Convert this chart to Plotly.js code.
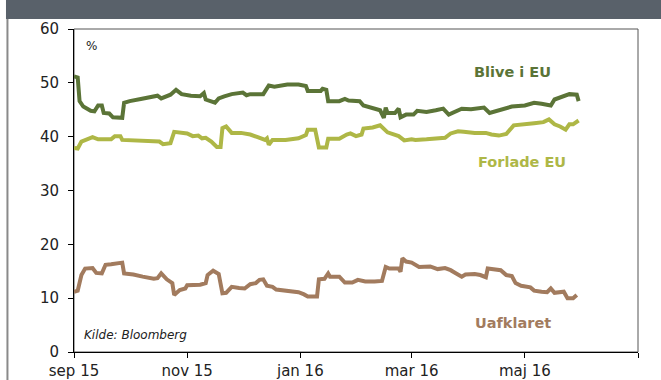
<!DOCTYPE html>
<html>
<head>
<meta charset="utf-8">
<script src="https://cdn.plot.ly/plotly-3.0.1.min.js"></script>
<style>html,body{margin:0;padding:0;background:#fff;}#chart{width:661px;height:380px;}</style>
</head>
<body>
<div id="chart"></div>
<script>
// ---- Data ----
const bliveDates = ['2015-09-01','2015-09-03','2015-09-04','2015-09-06','2015-09-10','2015-09-12','2015-09-14','2015-09-16','2015-09-17','2015-09-20','2015-09-22','2015-09-27','2015-09-28','2015-10-01','2015-10-07','2015-10-12','2015-10-16','2015-10-18','2015-10-21','2015-10-23','2015-10-26','2015-10-29','2015-11-03','2015-11-08','2015-11-10','2015-11-11','2015-11-16','2015-11-18','2015-11-21','2015-11-25','2015-12-01','2015-12-03','2015-12-05','2015-12-12','2015-12-15','2015-12-18','2015-12-25','2015-12-31','2016-01-04','2016-01-05','2016-01-12','2016-01-13','2016-01-15','2016-01-16','2016-01-22','2016-01-25','2016-01-27','2016-02-02','2016-02-04','2016-02-09','2016-02-13','2016-02-15','2016-02-16','2016-02-17','2016-02-21','2016-02-23','2016-02-24','2016-02-27','2016-03-02','2016-03-04','2016-03-09','2016-03-14','2016-03-18','2016-03-21','2016-03-24','2016-03-28','2016-04-02','2016-04-09','2016-04-12','2016-04-15','2016-04-20','2016-04-24','2016-05-01','2016-05-06','2016-05-10','2016-05-15','2016-05-17','2016-05-20','2016-05-25','2016-05-29','2016-05-30'];
const bliveValues = [51.2,51.0,46.6,45.6,44.8,44.7,45.8,45.8,44.4,44.3,43.6,43.5,46.3,46.6,47.0,47.4,47.6,47.1,47.5,47.8,48.7,47.9,47.6,47.5,48.1,46.9,46.3,47.1,47.5,47.9,48.2,47.7,47.9,47.9,49.5,49.3,49.7,49.7,49.4,48.5,48.5,48.9,48.7,46.6,46.6,47.0,46.7,46.6,45.8,45.3,44.9,43.5,45.4,44.4,44.4,45.2,43.6,44.1,44.1,44.8,44.6,44.9,45.2,44.1,44.6,45.2,45.1,45.4,44.4,44.7,45.2,45.6,45.8,46.3,46.1,45.8,46.9,47.3,47.9,47.8,46.6];

const forladeDates = ['2015-09-01','2015-09-03','2015-09-05','2015-09-08','2015-09-11','2015-09-14','2015-09-21','2015-09-23','2015-09-26','2015-09-27','2015-10-05','2015-10-12','2015-10-17','2015-10-19','2015-10-23','2015-10-25','2015-10-28','2015-11-01','2015-11-04','2015-11-07','2015-11-09','2015-11-11','2015-11-14','2015-11-17','2015-11-19','2015-11-20','2015-11-22','2015-11-25','2015-11-30','2015-12-05','2015-12-09','2015-12-13','2015-12-14','2015-12-15','2015-12-17','2015-12-24','2015-12-31','2016-01-04','2016-01-05','2016-01-09','2016-01-11','2016-01-15','2016-01-16','2016-01-22','2016-01-26','2016-01-28','2016-01-31','2016-02-03','2016-02-04','2016-02-09','2016-02-13','2016-02-17','2016-02-23','2016-02-26','2016-03-01','2016-03-03','2016-03-09','2016-03-16','2016-03-19','2016-03-22','2016-03-26','2016-03-29','2016-04-04','2016-04-10','2016-04-13','2016-04-17','2016-04-21','2016-04-25','2016-04-29','2016-05-06','2016-05-11','2016-05-14','2016-05-17','2016-05-20','2016-05-23','2016-05-25','2016-05-27','2016-05-30'];
const forladeValues = [37.9,37.8,39.1,39.5,39.9,39.5,39.5,40.1,40.1,39.4,39.3,39.2,39.1,38.6,38.8,40.9,40.8,40.6,40.1,40.2,39.7,39.8,39.1,38.1,38.1,41.6,41.9,40.7,40.7,40.4,39.9,39.4,39.7,38.5,39.4,39.4,39.7,40.3,41.3,41.3,38.0,38.0,39.6,39.6,40.4,40.6,40.1,40.4,41.5,41.7,42.1,40.8,40.1,39.3,39.5,39.4,39.5,39.7,39.8,40.6,41.0,40.9,40.7,40.7,40.4,40.2,40.5,42.1,42.3,42.5,42.7,43.2,42.3,41.9,41.3,42.3,42.3,43.0];

const uafklaretDates = ['2015-09-01','2015-09-03','2015-09-05','2015-09-07','2015-09-11','2015-09-13','2015-09-16','2015-09-18','2015-09-21','2015-09-24','2015-09-27','2015-09-28','2015-10-03','2015-10-08','2015-10-14','2015-10-16','2015-10-18','2015-10-21','2015-10-24','2015-10-25','2015-10-28','2015-10-31','2015-11-01','2015-11-08','2015-11-11','2015-11-12','2015-11-15','2015-11-18','2015-11-20','2015-11-22','2015-11-25','2015-11-29','2015-12-02','2015-12-05','2015-12-08','2015-12-10','2015-12-12','2015-12-14','2015-12-17','2015-12-19','2015-12-26','2015-12-31','2016-01-03','2016-01-05','2016-01-10','2016-01-11','2016-01-14','2016-01-16','2016-01-17','2016-01-22','2016-01-25','2016-01-29','2016-02-01','2016-02-05','2016-02-10','2016-02-14','2016-02-16','2016-02-18','2016-02-23','2016-02-24','2016-02-25','2016-02-27','2016-03-01','2016-03-03','2016-03-05','2016-03-11','2016-03-15','2016-03-19','2016-03-22','2016-03-25','2016-03-28','2016-03-30','2016-04-04','2016-04-07','2016-04-10','2016-04-11','2016-04-14','2016-04-18','2016-04-21','2016-04-24','2016-04-26','2016-04-29','2016-05-04','2016-05-06','2016-05-10','2016-05-13','2016-05-15','2016-05-17','2016-05-22','2016-05-24','2016-05-27','2016-05-29'];
const uafklaretValues = [11.2,11.4,14.3,15.5,15.6,14.7,14.6,16.2,16.3,16.5,16.6,14.6,14.4,14.0,13.6,13.7,14.6,13.5,12.8,10.6,11.5,11.8,12.4,12.5,12.8,14.3,15.1,14.5,10.9,11.0,12.1,11.9,11.8,12.6,12.8,13.4,13.5,12.3,12.1,11.6,11.3,11.1,10.7,10.3,10.3,13.5,13.6,14.6,14.0,14.0,12.9,12.9,13.4,13.1,13.1,13.2,15.8,15.5,15.5,14.9,17.4,16.8,16.6,16.2,15.8,15.9,15.4,15.6,15.2,14.6,14.0,14.4,14.5,14.3,13.9,15.5,15.4,15.2,14.3,14.1,12.8,12.3,12.0,11.4,11.2,11.1,11.8,11.0,11.2,10.0,10.0,10.6];

const seriesNames = ['Blive i EU','Forlade EU','Uafklaret'];
const tickDates = ['2015-09-01','2015-11-01','2016-01-01','2016-03-01','2016-05-01','2016-07-01'];
const tickLabels = ['sep 15','nov 15','jan 16','mar 16','maj 16',''];
const yTicks = [0,10,20,30,40,50,60];
const yUnit = '%';
const sourceText = 'Kilde: Bloomberg';

// ---- Styles ----
const colors = ['#5b7437','#aeb746','#a27b5e'];
const FONT = 'DejaVu Sans, Verdana, sans-serif';

const traces = [
  {x: bliveDates, y: bliveValues, name: seriesNames[0]},
  {x: forladeDates, y: forladeValues, name: seriesNames[1]},
  {x: uafklaretDates, y: uafklaretValues, name: seriesNames[2]}
].map((t, i) => Object.assign(t, {
  type: 'scatter', mode: 'lines',
  line: {color: colors[i], width: 4, shape: 'linear'},
  hoverinfo: 'skip'
}));

const labelPos = [
  {x: 0.777, y: 52.0},
  {x: 0.794, y: 35.3},
  {x: 0.778, y: 5.4}
];

const annotations = seriesNames.map((n, i) => ({
  text: '<b>' + n + '</b>', xref: 'paper', yref: 'y',
  x: labelPos[i].x, y: labelPos[i].y, showarrow: false,
  xanchor: 'center', yanchor: 'middle',
  font: {family: FONT, size: 14.5, color: colors[i]}
}));
annotations.push({
  text: yUnit, xref: 'paper', yref: 'y', x: 0.017, y: 56.9, showarrow: false,
  xanchor: 'left', yanchor: 'middle', font: {family: FONT, size: 12, color: '#222'}
});
annotations.push({
  text: '<i>' + sourceText + '</i>', xref: 'paper', yref: 'y', x: 0.014, y: 3.1, showarrow: false,
  xanchor: 'left', yanchor: 'middle', font: {family: FONT, size: 12, color: '#222'}
});

const layout = {
  width: 661, height: 380,
  margin: {l: 74, r: 23, t: 29, b: 28, pad: 0},
  paper_bgcolor: '#ffffff', plot_bgcolor: '#ffffff',
  showlegend: false,
  font: {family: FONT, size: 15, color: '#222'},
  xaxis: {
    type: 'date', range: ['2015-09-01', '2016-07-01'],
    tickmode: 'array', tickvals: tickDates, ticktext: tickLabels,
    ticks: 'outside', ticklen: 5, tickcolor: '#000', tickwidth: 1,
    showline: true, linecolor: '#000', linewidth: 1,
    showgrid: false, zeroline: false, fixedrange: true,
    tickfont: {family: FONT, size: 15, color: '#222'}
  },
  yaxis: {
    range: [0, 60], tickmode: 'array', tickvals: yTicks,
    ticks: 'outside', ticklen: 5, tickcolor: '#000', tickwidth: 1,
    ticklabelstandoff: 6,
    showline: true, linecolor: '#000', linewidth: 1,
    showgrid: false, zeroline: false, fixedrange: true,
    tickfont: {family: FONT, size: 15, color: '#222'}
  },
  shapes: [
    // header band
    {type: 'rect', xref: 'paper', yref: 'paper', x0: -0.1206, x1: 1.06, y0: 1.031, y1: 1.1, line: {width: 0}, fillcolor: '#59616a', layer: 'above'},
    // left page border
    {type: 'line', xref: 'paper', yref: 'paper', x0: -0.118, x1: -0.118, y0: 1.031, y1: -0.1, line: {color: '#8a8a8a', width: 2}},
    // plot frame
    {type: 'rect', xref: 'paper', yref: 'paper', x0: 0, x1: 1, y0: 0, y1: 1, line: {color: '#555', width: 1}, layer: 'below'}
  ],
  annotations: annotations
};

Plotly.newPlot('chart', traces, layout, {displayModeBar: false, staticPlot: true});
</script>
</body>
</html>
